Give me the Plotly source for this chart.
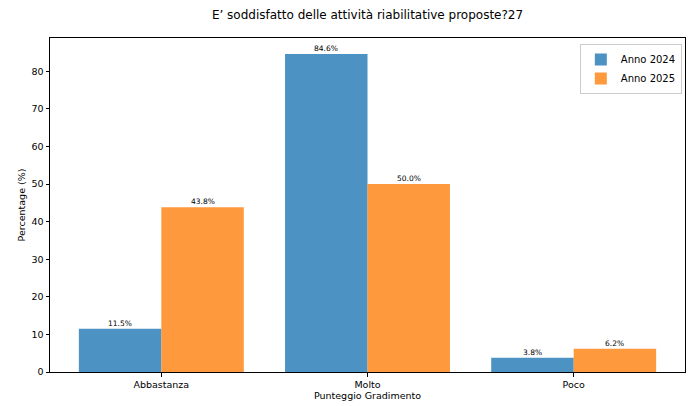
import plotly.graph_objects as go

categories = ["Abbastanza", "Molto", "Poco"]
anno_2024 = [11.5, 84.6, 3.8]
anno_2025 = [43.8, 50.0, 6.2]
series_names = ["Anno 2024", "Anno 2025"]
title = "E’ soddisfatto delle attività riabilitative proposte?27"

font = "DejaVu Sans"
colors = ["rgba(31,119,180,0.8)", "rgba(255,127,14,0.8)"]
fig = go.Figure()
annotations = []
for k, (name, vals, col) in enumerate([(series_names[0], anno_2024, colors[0]),
                                       (series_names[1], anno_2025, colors[1])]):
    fig.add_trace(go.Bar(
        x=categories, y=vals, name=name, marker=dict(color=col, line=dict(width=0)),
    ))
    off = -0.2 if k == 0 else 0.2
    for i, v in enumerate(vals):
        annotations.append(dict(x=i + off, y=v, xref="x", yref="y", text=f"{v:.1f}%",
                                showarrow=False, yanchor="bottom", yshift=-1,
                                font=dict(size=7.5, family=font, color="black")))

ymax = max(anno_2024 + anno_2025) * 1.05
W, H = 686, 398
fig.update_layout(
    width=W, height=H, plot_bgcolor="white", paper_bgcolor="white",
    margin=dict(l=42, r=9, t=30, b=34, autoexpand=False),
    barmode="group", bargap=0.2, bargroupgap=0,
    font=dict(family=font, size=9.5, color="black"),
    title=dict(text=title, xref="paper", x=0.5, xanchor="center", y=1 - 7 / H, yanchor="middle",
               font=dict(size=12, family=font, color="black")),
    annotations=annotations,
    legend=dict(x=0.995, y=0.982, xanchor="right", yanchor="top",
                bordercolor="#cccccc", borderwidth=1, bgcolor="rgba(255,255,255,0.8)",
                font=dict(size=10), tracegroupgap=0),
    showlegend=True,
)
fig.update_xaxes(range=[-0.54, 2.54], showline=True, linecolor="black", linewidth=1,
                 mirror=True, ticks="outside", ticklen=3.5, tickcolor="black",
                 title=dict(text="Punteggio Gradimento", standoff=3, font=dict(size=9.5)),
                 showgrid=False)
fig.update_yaxes(range=[0, ymax], dtick=10, showline=True, linecolor="black", linewidth=1,
                 mirror=True, ticks="outside", ticklen=3.5, tickcolor="black",
                 title=dict(text="Percentage (%)", standoff=4, font=dict(size=9.5)),
                 showgrid=False, zeroline=False)

fig.write_html("out.html")
